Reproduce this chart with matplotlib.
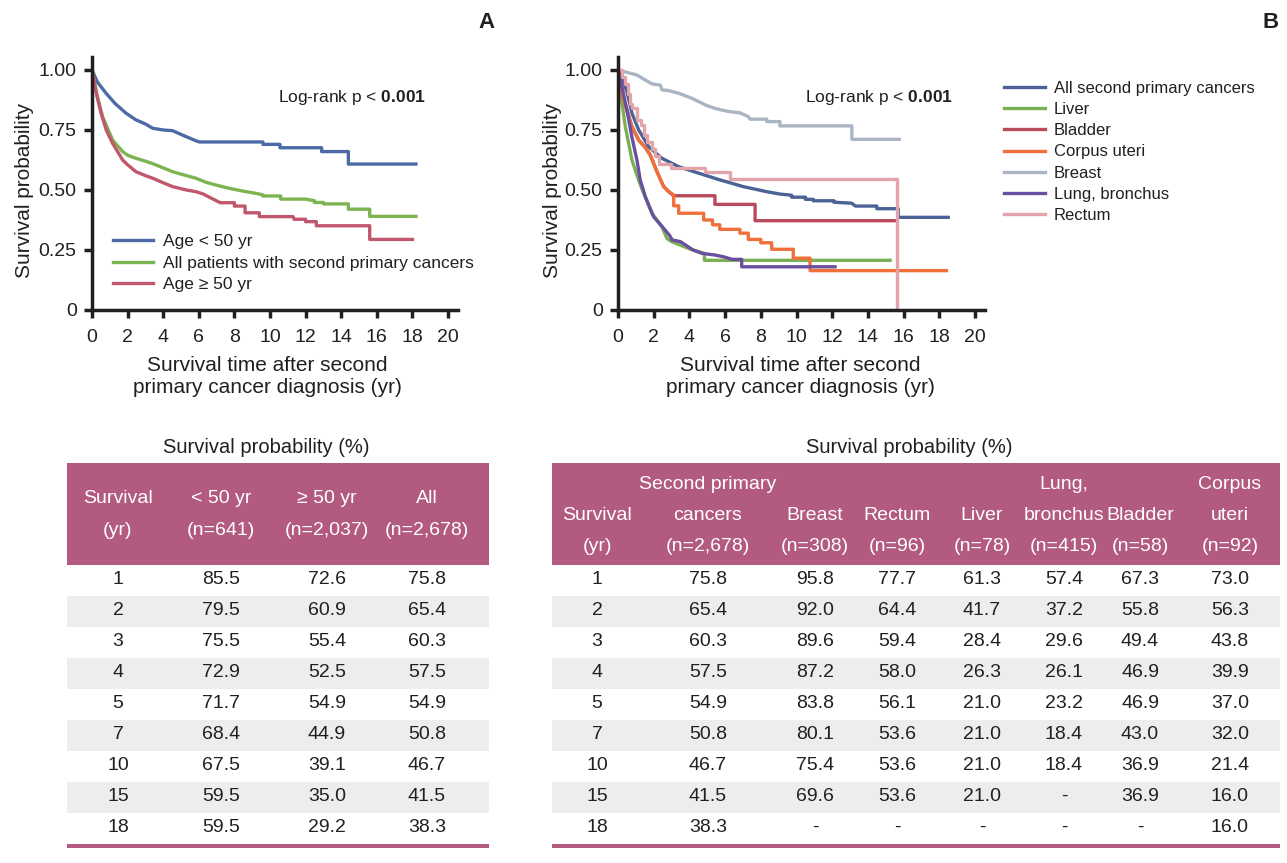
import matplotlib
matplotlib.use('Agg')
import matplotlib.pyplot as plt
from matplotlib.patches import Rectangle

plt.rcParams['font.family'] = ['Liberation Sans', 'DejaVu Sans']
plt.rcParams['mathtext.fontset'] = 'custom'
plt.rcParams['mathtext.rm'] = 'Liberation Sans'
plt.rcParams['mathtext.bf'] = 'Liberation Sans:bold'

INK = '#231f20'
PURPLE = '#b25a80'
BAND = '#ebedef'

# ---- panel A curves (time in yr, survival probability) ----
young_t = [0, 0.3, 0.79, 1.3, 1.91, 2.47, 3.0, 3.41, 4.0, 4.53, 5.2, 5.84, 6.03, 9.6, 9.6,
           10.56, 10.56, 12.9, 12.9, 14.4, 14.4, 18.2]
young_s = [1.0, 0.95, 0.903, 0.86, 0.82, 0.792, 0.775, 0.757, 0.75, 0.747, 0.725, 0.705, 0.70, 0.70, 0.69,
           0.69, 0.676, 0.676, 0.66, 0.66, 0.608, 0.608]

allpt_t = [0, 0.3, 0.6, 1.16, 1.72, 2.0, 2.47, 3.0, 3.4, 4.0, 4.53, 5.2, 5.84, 6.4, 7.0, 7.7, 8.5, 9.2,
           9.6, 9.6, 10.6, 10.6, 12.0, 12.5, 12.5, 13.0, 13.0, 14.4, 14.4, 15.6, 15.6, 18.2]
allpt_s = [1.0, 0.89, 0.805, 0.708, 0.66, 0.645, 0.632, 0.62, 0.61, 0.592, 0.576, 0.562, 0.549, 0.532,
           0.52, 0.507, 0.495, 0.486, 0.48, 0.475, 0.475, 0.462, 0.462, 0.455, 0.448, 0.448, 0.442,
           0.442, 0.42, 0.42, 0.39, 0.39]

old_t = [0, 0.25, 0.51, 0.8, 1.16, 1.72, 2.0, 2.47, 3.0, 3.41, 4.0, 4.53, 5.3, 5.84, 6.25, 7.2, 8.0, 8.0,
         8.6, 8.6, 9.4, 9.4, 11.3, 11.35, 12.0, 12.0, 12.6, 12.6, 15.6, 15.6, 18.0]
old_s = [1.0, 0.9, 0.82, 0.75, 0.694, 0.625, 0.605, 0.576, 0.56, 0.549, 0.53, 0.514, 0.5, 0.493, 0.483,
         0.447, 0.447, 0.433, 0.433, 0.405, 0.405, 0.389, 0.389, 0.378, 0.378, 0.368, 0.368, 0.351,
         0.351, 0.294, 0.294]

# ---- panel B curves ----
spc_t = [0, 0.25, 0.5, 0.78, 1.16, 1.72, 2.46, 3.4, 4.52, 5.71, 7.02, 8.33, 9.07, 9.73, 9.73, 10.5,
         10.5, 10.94, 10.94, 12.1, 12.1, 13.09, 13.3, 14.5, 14.5, 15.7, 15.7, 18.5]
spc_s = [1.0, 0.96, 0.91, 0.82, 0.75, 0.68, 0.632, 0.597, 0.57, 0.542, 0.514, 0.493, 0.483, 0.478, 0.47,
         0.47, 0.461, 0.461, 0.455, 0.455, 0.449, 0.445, 0.433, 0.433, 0.422, 0.422, 0.386, 0.386]

liver_t = [0, 0.15, 0.41, 0.78, 1.16, 1.44, 1.9, 2.46, 2.74, 3.0, 3.5, 4.0, 4.84, 4.84, 15.24]
liver_s = [1.0, 0.9, 0.764, 0.625, 0.54, 0.486, 0.403, 0.347, 0.298, 0.285, 0.27, 0.255, 0.236, 0.207, 0.207]

# early part of bladder runs underneath corpus uteri
bladder_t = [0, 0.3, 0.78, 1.16, 1.53, 1.81, 2.0, 2.18, 2.37, 2.56, 2.84, 3.12, 5.43, 5.43, 7.68, 7.68, 15.6]
bladder_s = [1.0, 0.88, 0.764, 0.708, 0.677, 0.645, 0.61, 0.577, 0.545, 0.514, 0.493, 0.476, 0.476, 0.44,
             0.44, 0.372, 0.372]

corpus_t = [0, 0.3, 0.78, 1.16, 1.53, 1.81, 2.0, 2.18, 2.37, 2.56, 2.84, 3.12, 3.12, 3.4, 3.4, 4.8, 4.8,
            5.3, 5.3, 5.7, 5.7, 6.83, 6.83, 7.3, 7.3, 8.0, 8.0, 8.61, 8.61, 9.82, 9.82, 10.76, 10.76, 18.4]
corpus_s = [1.0, 0.88, 0.764, 0.708, 0.677, 0.645, 0.61, 0.577, 0.545, 0.514, 0.493, 0.479, 0.434, 0.434,
            0.403, 0.403, 0.375, 0.375, 0.355, 0.355, 0.336, 0.336, 0.32, 0.32, 0.294, 0.294, 0.28, 0.28,
            0.253, 0.253, 0.216, 0.216, 0.164, 0.164]

breast_t = [0, 0.5, 1.06, 1.53, 1.9, 2.37, 2.46, 2.84, 3.4, 4.14, 4.9, 5.43, 5.8, 6.27, 6.8, 7.3, 7.4,
            8.33, 8.33, 9.07, 9.07, 13.1, 13.1, 15.76]
breast_s = [1.0, 0.99, 0.979, 0.958, 0.942, 0.937, 0.917, 0.914, 0.903, 0.882, 0.854, 0.84, 0.833, 0.826,
            0.822, 0.806, 0.795, 0.795, 0.785, 0.785, 0.767, 0.767, 0.711, 0.711]

lung_t = [0, 0.25, 0.5, 0.78, 1.06, 1.25, 1.53, 1.99, 2.56, 2.9, 3.03, 3.49, 3.8, 4.2, 4.7, 5.43, 5.9,
          6.4, 6.93, 6.93, 12.16]
lung_s = [1.0, 0.92, 0.833, 0.72, 0.625, 0.54, 0.472, 0.389, 0.34, 0.31, 0.292, 0.285, 0.27, 0.25, 0.236,
          0.229, 0.222, 0.211, 0.211, 0.18, 0.18]

# rectum is drawn as a step function (value after each event)
rectum_t = [0, 0.25, 0.4, 0.55, 0.7, 0.8, 1.07, 1.3, 1.45, 1.6, 1.9, 2.1, 2.3, 2.95, 4.9, 6.27, 15.65]
rectum_s = [1.0, 0.97, 0.94, 0.9, 0.86, 0.84, 0.79, 0.77, 0.73, 0.70, 0.67, 0.64, 0.61, 0.59, 0.575,
            0.545, 0.0]

# ---- tables ----
years = [1, 2, 3, 4, 5, 7, 10, 15, 18]
under50 = [85.5, 79.5, 75.5, 72.9, 71.7, 68.4, 67.5, 59.5, 59.5]
over50 = [72.6, 60.9, 55.4, 52.5, 54.9, 44.9, 39.1, 35.0, 29.2]
all_pts = [75.8, 65.4, 60.3, 57.5, 54.9, 50.8, 46.7, 41.5, 38.3]
breast = [95.8, 92.0, 89.6, 87.2, 83.8, 80.1, 75.4, 69.6, None]
rectum = [77.7, 64.4, 59.4, 58.0, 56.1, 53.6, 53.6, 53.6, None]
liver = [61.3, 41.7, 28.4, 26.3, 21.0, 21.0, 21.0, 21.0, None]
lung = [57.4, 37.2, 29.6, 26.1, 23.2, 18.4, 18.4, None, None]
bladder = [67.3, 55.8, 49.4, 46.9, 46.9, 43.0, 36.9, 36.9, None]
corpus = [73.0, 56.3, 43.8, 39.9, 37.0, 32.0, 21.4, 16.0, 16.0]

left_head = [['Survival', '(yr)'], ['< 50 yr', '(n=641)'], ['\u2265 50 yr', '(n=2,037)'], ['All', '(n=2,678)']]
right_head = [['', 'Survival', '(yr)'], ['Second primary', 'cancers', '(n=2,678)'], ['', 'Breast', '(n=308)'],
              ['', 'Rectum', '(n=96)'], ['', 'Liver', '(n=78)'], ['Lung,', 'bronchus', '(n=415)'],
              ['', 'Bladder', '(n=58)'], ['Corpus', 'uteri', '(n=92)']]

W, H = 1287, 863
fig = plt.figure(figsize=(W / 100, H / 100), dpi=100)


def px_axes(x0, x1, y0, y1):
    return fig.add_axes([x0 / W, 1 - y1 / H, (x1 - x0) / W, (y1 - y0) / H])


def style(ax):
    ax.patch.set_alpha(0)
    ax.set_xlim(0, 20.56)
    ax.set_ylim(0, 1.054)
    ax.set_xticks(range(0, 21, 2))
    ax.set_yticks([0, 0.25, 0.5, 0.75, 1.0])
    ax.set_yticklabels(['0', '0.25', '0.50', '0.75', '1.00'])
    for s in ['top', 'right']:
        ax.spines[s].set_visible(False)
    for s in ['left', 'bottom']:
        ax.spines[s].set_linewidth(2.5)
        ax.spines[s].set_color(INK)
    ax.tick_params(direction='out', length=6, width=2.5, color=INK, labelsize=14, labelcolor=INK)
    ax.tick_params(axis='x', pad=8)
    ax.tick_params(axis='y', pad=5)
    ax.set_xlabel('Survival time after second\nprimary cancer diagnosis (yr)', fontsize=15,
                  linespacing=1.25, color=INK)
    ax.set_ylabel('Survival probability', fontsize=15, color=INK)
    ax.text(10.45, 0.886, r'Log-rank p < $\mathbf{0.001}$', fontsize=12.5, color=INK, va='center')


LW = 2.4

# panel A
axA = px_axes(92, 458, 57, 310)
style(axA)
axA.plot(young_t, young_s, color='#4e6aa6', lw=LW, label='Age < 50 yr')
axA.plot(allpt_t, allpt_s, color='#7db452', lw=LW, label='All patients with second primary cancers')
axA.plot(old_t, old_s, color='#c1576c', lw=LW, label='Age \u2265 50 yr')
axA.legend(loc='upper left', bbox_to_anchor=(0.057, 0.30), frameon=False, fontsize=12.5,
           handlelength=2.3, handletextpad=0.58, labelspacing=0.36, borderpad=0, borderaxespad=0,
           labelcolor=INK)
axA.xaxis.set_label_coords(0.48, -0.18)
axA.yaxis.set_label_coords(-0.158, 0.474)

# panel B
axB = px_axes(618, 985, 57, 310)
style(axB)
axB.plot(spc_t, spc_s, color='#4a6296', lw=LW, label='All second primary cancers')
axB.plot(liver_t, liver_s, color='#7aaf55', lw=LW, label='Liver')
axB.plot(bladder_t, bladder_s, color='#b94a5a', lw=LW, label='Bladder')
axB.plot(corpus_t, corpus_s, color='#f0703c', lw=LW, label='Corpus uteri')
axB.plot(breast_t, breast_s, color='#a9b5c2', lw=LW, label='Breast')
axB.plot(lung_t, lung_s, color='#6b4f9f', lw=LW, label='Lung, bronchus')
axB.plot(rectum_t, rectum_s, color='#e2a3aa', lw=LW, drawstyle='steps-post', label='Rectum')
axB.legend(loc='upper left', bbox_to_anchor=((1004 - 618) / 367, (310 - 81) / 253), frameon=False,
           fontsize=12, handlelength=2.46, handletextpad=0.54, labelspacing=0.37, borderpad=0,
           borderaxespad=0, labelcolor=INK)
axB.xaxis.set_label_coords(0.496, -0.18)
axB.yaxis.set_label_coords(-0.153, 0.474)

fig.text(487 / W, 1 - 22 / H, 'A', fontsize=16, fontweight='bold', color=INK, ha='center', va='center')
fig.text(1271 / W, 1 - 22 / H, 'B', fontsize=16, fontweight='bold', color=INK, ha='center', va='center')

# tables drawn on a pixel-coordinate overlay
tab = fig.add_axes([0, 0, 1, 1])
tab.set_xlim(0, W)
tab.set_ylim(H, 0)
tab.axis('off')

HEAD_TOP, HEAD_BOT, ROW_H = 463, 565, 31


def fmt(v):
    return '-' if v is None else f'{v:.1f}'


def draw_table(x0, x1, title_x, centers, head, head_y, cols):
    tab.text(title_x, 447, 'Survival probability (%)', fontsize=14.5, color=INK, ha='center', va='center')
    tab.add_patch(Rectangle((x0, HEAD_TOP), x1 - x0, HEAD_BOT - HEAD_TOP, color=PURPLE, lw=0))
    for cx, lines in zip(centers, head):
        for y, line in zip(head_y, lines):
            tab.text(cx, y, line, fontsize=14, color='white', ha='center', va='center')
    for i, yr in enumerate(years):
        top = HEAD_BOT + i * ROW_H
        if i % 2 == 1:
            tab.add_patch(Rectangle((x0, top), x1 - x0, ROW_H, color=BAND, lw=0))
        cy = top + ROW_H / 2 - 1
        tab.text(centers[0], cy, str(yr), fontsize=14, color=INK, ha='center', va='center')
        for cx, col in zip(centers[1:], cols):
            tab.text(cx, cy, fmt(col[i]), fontsize=14, color=INK, ha='center', va='center')
    bot = HEAD_BOT + len(years) * ROW_H
    tab.add_patch(Rectangle((x0, bot), x1 - x0, 3.5, color=PURPLE, lw=0))


draw_table(67, 489, 266, [118, 221, 327, 427], left_head, [498, 530],
           [under50, over50, all_pts])
draw_table(552, 1280, 909, [597, 708, 815, 897, 982, 1064, 1140, 1230], right_head, [484, 515, 546],
           [all_pts, breast, rectum, liver, lung, bladder, corpus])

fig.savefig('out.png', dpi=100)
